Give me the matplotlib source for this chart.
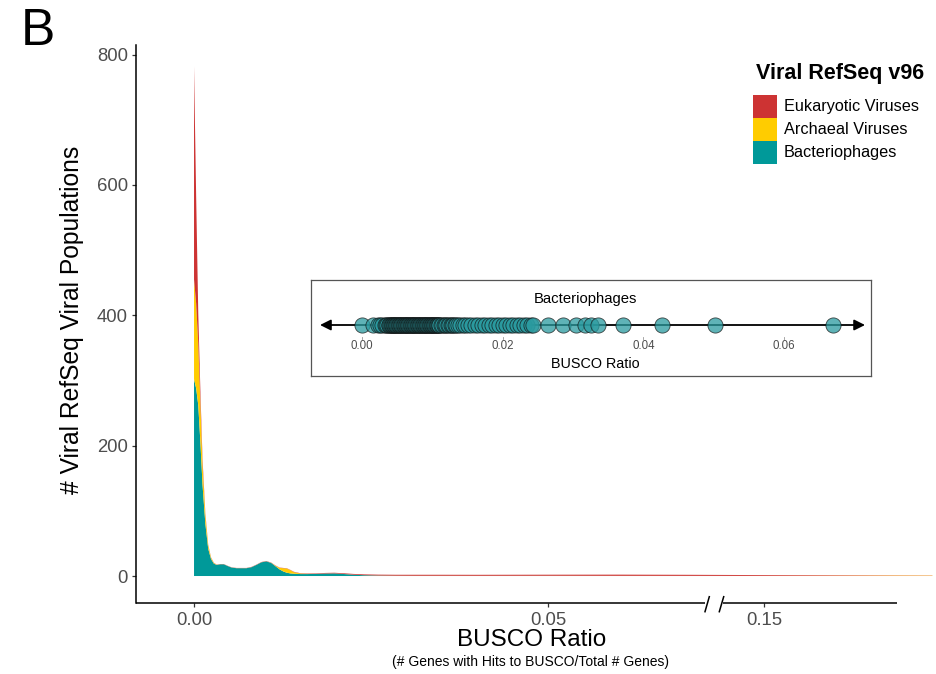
import numpy as np
import matplotlib
matplotlib.use("Agg")
import matplotlib.pyplot as plt
from matplotlib.patches import Rectangle
from matplotlib.lines import Line2D
from matplotlib.transforms import blended_transform_factory

plt.rcParams['font.family'] = ['Liberation Sans', 'DejaVu Sans']

# ---------------- data ----------------
busco_x = [0.0000, 0.0003, 0.0006, 0.0009, 0.0012, 0.0016, 0.0020, 0.0024, 0.0028, 0.0032,
           0.0037, 0.0042, 0.0047, 0.0053, 0.0060, 0.0067, 0.0074, 0.0081, 0.0088, 0.0095,
           0.0102, 0.0109, 0.0115, 0.0121, 0.0126, 0.0131, 0.0136, 0.0141, 0.0150, 0.0160,
           0.0172, 0.0185, 0.0198, 0.0210, 0.0225, 0.0240, 0.0260, 0.0285, 0.0310, 0.0350,
           0.0400, 0.0500, 0.0600, 0.0700, 0.1000, 0.1500, 0.2000, 0.2500, 0.3000, 0.3500,
           0.4100]

bacteriophages = [302, 288, 262, 205, 140, 80, 42, 26, 19, 17,
                  18, 18, 15.5, 13, 12, 12, 12, 13.5, 17, 21,
                  22.5, 20, 15, 10, 7, 5, 4, 3.5, 3, 3,
                  3.2, 3.8, 4, 3.2, 2, 1.2, 0.6, 0.3, 0.2, 0.2,
                  0.15, 0.2, 0.1, 0.05, 0, 0, 0, 0, 0, 0,
                  0]

archaeal = [153, 130, 95, 60, 32, 13, 5, 2, 1, 0.3,
            0.1, 0.1, 0.1, 0.1, 0.1, 0.1, 0.1, 0.1, 0.1, 0.1,
            0.1, 0.2, 0.8, 2.5, 5, 6.5, 5, 2.5, 0.8, 0.3,
            0.1, 0.1, 0.1, 0.1, 0.1, 0.1, 0.2, 0.2, 0.2, 0.2,
            0.2, 0.2, 0.2, 0.2, 0.2, 0.2, 0.3, 0.4, 0.5, 0.6,
            0.5]

eukaryotic = [327, 165, 45, 18, 8, 3, 1.2, 0.6, 0.4, 0.3,
              0.3, 0.3, 0.3, 0.3, 0.3, 0.3, 0.3, 0.4, 0.4, 0.4,
              0.4, 0.4, 0.4, 0.4, 0.4, 0.4, 0.4, 0.5, 0.5, 0.6,
              0.7, 0.8, 0.9, 1.0, 1.1, 1.2, 1.3, 1.4, 1.5, 1.5,
              1.5, 1.6, 1.8, 1.6, 1.4, 1.2, 1.0, 0.8, 0.6, 0.4,
              0.3]

series_labels = ["Eukaryotic Viruses", "Archaeal Viruses", "Bacteriophages"]
series_colors = ["#CD3333", "#FFCC00", "#009999"]

x_ticks = [0.00, 0.05, 0.15]
x_tick_labels = ["0.00", "0.05", "0.15"]
y_ticks = [0, 200, 400, 600, 800]

# bacteriophage BUSCO ratios shown in the inset strip
phage_busco = [0.0000, 0.0015, 0.0023, 0.0026, 0.0029, 0.0032, 0.0034, 0.0036, 0.0038, 0.0039,
               0.0040, 0.0041, 0.0042, 0.0043, 0.0044, 0.0045, 0.0046, 0.0047, 0.0048, 0.0049,
               0.0050, 0.0051, 0.0052, 0.0053, 0.0054, 0.0055, 0.0056, 0.0057, 0.0058, 0.0059,
               0.0060, 0.0061, 0.0062, 0.0063, 0.0064, 0.0065, 0.0066, 0.0067, 0.0068, 0.0069,
               0.0070, 0.0071, 0.0072, 0.0073, 0.0074, 0.0075, 0.0076, 0.0077, 0.0078, 0.0079,
               0.0080, 0.0081, 0.0082, 0.0083, 0.0084, 0.0085, 0.0086, 0.0087, 0.0088, 0.0089,
               0.0090, 0.0091, 0.0092, 0.0093, 0.0094, 0.0095, 0.0096, 0.0097, 0.0098, 0.0099,
               0.0100, 0.0101, 0.0102, 0.0103, 0.0104, 0.0105, 0.0106, 0.0107, 0.0108, 0.0109,
               0.0110, 0.0112, 0.0114, 0.0116, 0.0118, 0.0120, 0.0122, 0.0124, 0.0126, 0.0128,
               0.0130, 0.0132, 0.0134, 0.0136, 0.0139, 0.0143, 0.0147, 0.0151, 0.0155, 0.0160,
               0.0165, 0.0170, 0.0175, 0.0180, 0.0185, 0.0190, 0.0195, 0.0200, 0.0205, 0.0210,
               0.0215, 0.0220, 0.0225, 0.0230, 0.0235, 0.0240, 0.0243, 0.0264, 0.0286, 0.0304,
               0.0317, 0.0325, 0.0335, 0.0371, 0.0427, 0.0502, 0.0670]
inset_ticks = [0.00, 0.02, 0.04, 0.06]
inset_tick_labels = ["0.00", "0.02", "0.04", "0.06"]

# ---------------- broken x scale ----------------
XBREAK = 0.0735
K = 0.09124


def fwd(x):
    x = np.asarray(x, dtype=float)
    return np.where(x <= XBREAK, x, XBREAK + (x - XBREAK) * K)


def inv(u):
    u = np.asarray(u, dtype=float)
    return np.where(u <= XBREAK, u, XBREAK + (u - XBREAK) / K)


W, H = 937, 674
fig = plt.figure(figsize=(W / 100, H / 100), dpi=100)


def fx(px):
    return px / W


def fy(py):
    return 1 - py / H


TEXT_GRAY = "#4D4D4D"
TICK_GRAY = "#333333"

ax = fig.add_axes([fx(135.7), fy(603), fx(937) - fx(135.7), fy(45) - fy(603)])
ax.set_xscale('function', functions=(fwd, inv))
ax.stackplot(busco_x, bacteriophages, archaeal, eukaryotic,
             colors=[series_colors[2], series_colors[1], series_colors[0]],
             linewidth=0)
ax.set_xlim(-0.00823, 0.417)
ax.set_ylim(-41.4, 814.6)

ax.set_xticks(x_ticks)
ax.set_xticklabels(x_tick_labels)
ax.set_yticks(y_ticks)
ax.set_yticklabels([str(v) for v in y_ticks])
ax.tick_params(axis='both', labelsize=13.3, labelcolor=TEXT_GRAY, color=TICK_GRAY,
               length=3, width=0.9)
ax.tick_params(axis='y', pad=2.6)
ax.tick_params(axis='x', pad=3.5)
ax.minorticks_off()

for s in ['top', 'right', 'bottom']:
    ax.spines[s].set_visible(False)
ax.spines['left'].set_linewidth(1.1)
ax.spines['left'].set_color('black')

# broken x axis line
bt = blended_transform_factory(ax.transData, ax.transAxes)
axis_segments = [(-0.00823, 0.0721), (0.0853, 0.355)]
for a, b in axis_segments:
    ax.plot([a, b], [0, 0], transform=bt, color='black', lw=1.1, clip_on=False,
            solid_capstyle='butt')
for x0, x1 in [(705.0, 709.3), (719.3, 723.7)]:
    fig.add_artist(Line2D([fx(x0), fx(x1)], [fy(611.7), fy(596.7)],
                          transform=fig.transFigure, color='black', lw=1.1))

# labels
fig.text(fx(21), fy(45), "B", fontsize=37, ha='left', va='baseline')
fig.text(fx(72), fy(320), "# Viral RefSeq Viral Populations", rotation=90,
         fontsize=17.7, ha='center', va='center')
fig.text(fx(532), fy(640), "BUSCO Ratio", fontsize=17.5, ha='center', va='center')
fig.text(fx(531), fy(662), "(# Genes with Hits to BUSCO/Total # Genes)", fontsize=10,
         ha='center', va='center')

# legend
fig.text(fx(756), fy(73), "Viral RefSeq v96", fontsize=15.5, fontweight='bold',
         ha='left', va='center')
key_tops = [95.0, 118.3, 141.3]
for top, lab, col in zip(key_tops, series_labels, series_colors):
    fig.add_artist(Rectangle((fx(753.3), fy(top + 22.7)), fx(23.4), 22.7 / H,
                             transform=fig.transFigure, facecolor=col, edgecolor='none'))
    fig.text(fx(784), fy(top + 11.3), lab, fontsize=11.7, ha='left', va='center')

# inset
iax = fig.add_axes([fx(311), fy(376), fx(871) - fx(311), (376 - 280) / H])
iax.set_xlim(-0.00725, 0.07235)
iax.set_ylim(0, 1)
iax.set_xticks([])
iax.set_yticks([])
for s in iax.spines.values():
    s.set_color('#555555')
    s.set_linewidth(0.9)
line_y = (376 - 325) / 96
iax.annotate('', xy=(0.0715, line_y), xytext=(-0.00597, line_y),
             arrowprops=dict(arrowstyle='<|-|>', color='black', lw=1.3,
                             mutation_scale=16, shrinkA=0, shrinkB=0))
iax.scatter(phage_busco, [line_y] * len(phage_busco), s=120, c='#2A9A9F',
            alpha=0.75, edgecolors='#111111', linewidths=0.6, zorder=3)
for t, lab in zip(inset_ticks, inset_tick_labels):
    iax.text(t, (376 - 346) / 96, lab, fontsize=8.3, color=TEXT_GRAY, ha='center',
             va='center')
    iax.plot([t, t], [(376 - 339) / 96, (376 - 337) / 96], color='#999999', lw=0.6)
iax.text((585.5 - 311) / 560, (376 - 299) / 96, "Bacteriophages", fontsize=10.7,
         ha='center', va='center', transform=iax.transAxes)
iax.text((595.5 - 311) / 560, (376 - 364) / 96, "BUSCO Ratio", fontsize=10.4,
         ha='center', va='center', transform=iax.transAxes)

fig.savefig("out.png", dpi=100)
